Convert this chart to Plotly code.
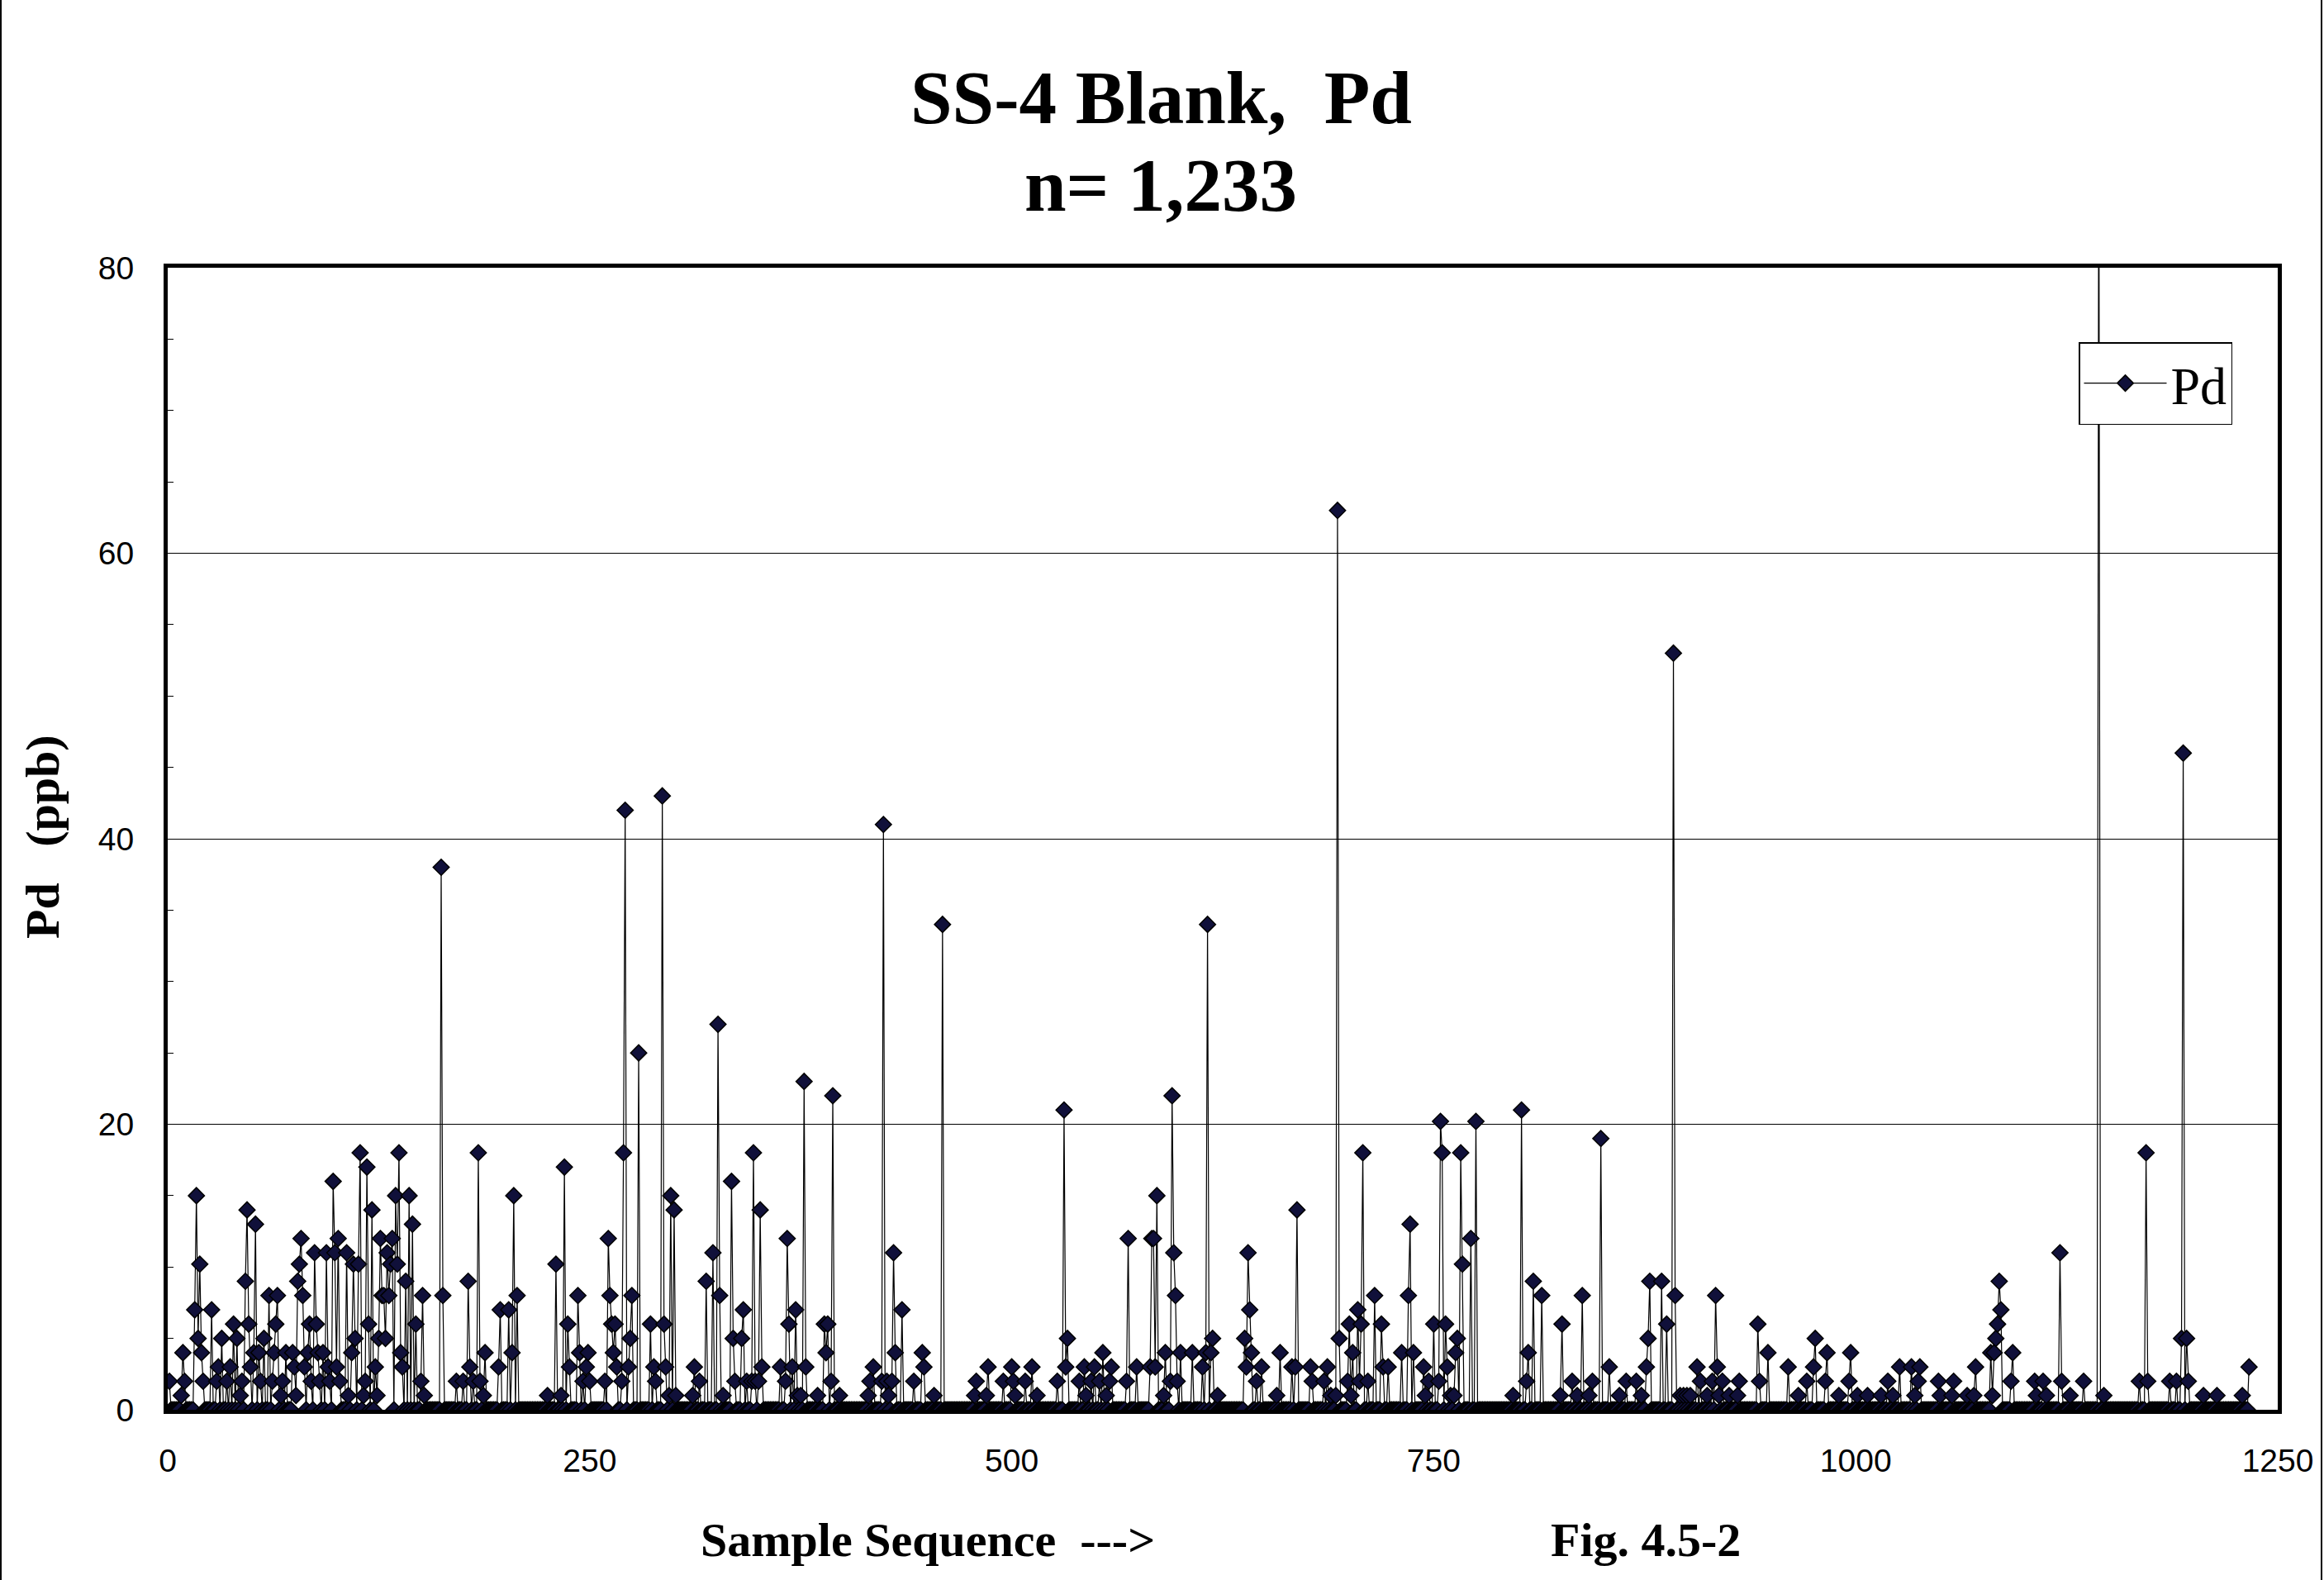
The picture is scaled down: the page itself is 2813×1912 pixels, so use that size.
import plotly.graph_objects as go

# ---------------- data ----------------
n_samples = 1233                      # "n= 1,233"; samples numbered 1..1233
# samples with a detectable Pd reading (sample number, ppb); all other samples read 0
detect_seq = [
    1, 8, 9, 10, 16, 17, 18, 19, 20, 21, 26, 29, 30, 32, 35, 37, 39, 41, 43, 44,
    46, 47, 48, 49, 51, 52, 54, 55, 57, 60, 62, 63, 64, 65, 67, 68, 70, 74, 75, 76,
    77, 78, 79, 80, 81, 83, 84, 85, 87, 88, 89, 90, 92, 94, 95, 96, 98, 99, 100, 101,
    102, 106, 107, 109, 110, 111, 113, 114, 116, 117, 118, 119, 121, 123, 124, 125, 126, 127, 128, 129,
    130, 131, 132, 133, 135, 136, 137, 138, 139, 141, 143, 145, 147, 150, 151, 152, 162, 163, 171, 175,
    178, 179, 181, 184, 185, 187, 188, 196, 197, 202, 204, 205, 207, 225, 230, 233, 235, 237, 238, 243,
    244, 246, 248, 249, 250, 259, 261, 262, 263, 264, 265, 266, 269, 270, 271, 273, 274, 275, 279, 286,
    288, 289, 293, 294, 295, 297, 298, 300, 301, 311, 312, 315, 319, 323, 326, 327, 329, 334, 335, 336,
    340, 341, 343, 346, 347, 348, 350, 351, 352, 363, 366, 367, 368, 370, 372, 373, 375, 377, 378, 385,
    389, 390, 391, 393, 394, 398, 415, 416, 418, 423, 424, 426, 427, 429, 430, 431, 435, 442, 447, 448,
    454, 459, 478, 479, 485, 486, 495, 500, 501, 502, 508, 512, 515, 527, 531, 532, 533, 540, 543, 544,
    547, 549, 552, 554, 556, 558, 559, 568, 569, 574, 582, 583, 584, 585, 586, 590, 591, 594, 595, 596,
    597, 598, 600, 607, 613, 615, 616, 618, 619, 622, 638, 639, 640, 641, 642, 645, 648, 657, 659, 666,
    668, 669, 677, 678, 685, 687, 689, 692, 693, 694, 699, 700, 701, 702, 705, 706, 707, 708, 711, 715,
    719, 720, 723, 731, 735, 736, 738, 744, 745, 747, 750, 753, 754, 755, 757, 758, 760, 762, 763, 764,
    766, 767, 772, 775, 797, 802, 805, 806, 809, 814, 825, 826, 832, 835, 838, 842, 844, 849, 854, 860,
    864, 870, 873, 876, 877, 878, 885, 888, 892, 893, 896, 898, 900, 902, 906, 908, 912, 915, 917, 918,
    919, 921, 925, 930, 931, 942, 943, 948, 960, 966, 971, 975, 976, 982, 983, 990, 996, 997, 1001, 1007,
    1015, 1019, 1022, 1026, 1033, 1035, 1037, 1038, 1049, 1050, 1057, 1058, 1066, 1070, 1071, 1080, 1081, 1082, 1083, 1084,
    1085, 1086, 1092, 1093, 1106, 1107, 1111, 1113, 1121, 1122, 1127, 1135, 1144, 1147, 1168, 1172, 1173, 1186, 1190, 1193,
    1194, 1196, 1197, 1206, 1214, 1229, 1233,
]
detect_ppb = [
    2, 1, 4, 2, 7, 15, 5, 10.2, 4, 2, 7, 2, 3, 5, 2, 3, 6, 5, 1, 2,
    9, 14, 6, 3, 4, 13, 4, 2, 5, 8, 2, 4, 6, 8, 1, 2, 4, 4, 3, 1,
    9, 10.2, 12, 8, 3, 4, 6, 2, 11, 6, 4, 2, 4, 11, 3, 2, 16, 11, 3, 12,
    2, 11, 1, 4, 10.2, 5, 10.2, 18, 1, 2, 17, 6, 14, 3, 1, 5, 12, 8, 8, 5,
    11, 8, 10.2, 12, 15, 10.2, 18, 4, 3, 9, 15, 13, 6, 2, 8, 1, 38, 8, 2, 2,
    9, 3, 2, 18, 2, 1, 4, 3, 7, 7, 4, 15, 8, 1, 10.2, 1, 17, 6, 3, 8,
    4, 2, 3, 4, 2, 2, 12, 8, 6, 4, 6, 3, 2, 18, 42, 3, 5, 8, 25, 6,
    3, 2, 43, 6, 3, 1, 15, 14, 1, 1, 3, 2, 9, 11, 27, 8, 1, 16, 5, 2,
    5, 7, 2, 2, 18, 2, 2, 14, 3, 3, 2, 12, 6, 3, 7, 1, 1, 23, 3, 1,
    6, 4, 6, 2, 22, 1, 1, 2, 3, 2, 41, 2, 1, 2, 11, 4, 7, 2, 4, 3,
    1, 34, 1, 2, 1, 3, 2, 3, 2, 1, 2, 3, 1, 2, 21, 3, 5, 2, 3, 1,
    2, 3, 2, 4, 1, 2, 3, 2, 12, 3, 3, 12, 12, 3, 15, 1, 4, 2, 22, 11,
    8, 2, 4, 4, 3, 4, 34, 4, 5, 1, 5, 3, 11, 7, 4, 2, 3, 1, 4, 3,
    3, 14, 3, 2, 2, 3, 1, 1, 63, 5, 2, 6, 1, 4, 7, 2, 6, 18, 2, 8,
    6, 3, 3, 4, 8, 13, 4, 3, 1, 2, 6, 2, 20.2, 18, 6, 3, 1, 1, 4, 5,
    18, 10.2, 12, 20.2, 1, 21, 2, 4, 9, 8, 1, 6, 2, 1, 8, 1, 2, 19, 3, 1,
    2, 2, 1, 3, 5, 9, 9, 6, 53, 8, 1, 1, 1, 1, 3, 2, 1, 2, 8, 3,
    1, 2, 1, 1, 2, 6, 2, 4, 3, 1, 2, 3, 5, 2, 4, 1, 2, 4, 1, 1,
    1, 2, 1, 3, 3, 1, 2, 3, 2, 1, 1, 2, 1, 1, 3, 4, 1, 4, 5, 6,
    9, 7, 2, 4, 2, 1, 2, 1, 11, 2, 1, 2, 95, 1, 2, 18, 2, 2, 2, 5,
    46, 5, 2, 1, 1, 1, 3,
]

x_ticks = [0, 250, 500, 750, 1000, 1250]
y_ticks = [0, 20, 40, 60, 80]

# full series: every sample in sequence
sample_seq = list(range(1, n_samples + 1))
lookup = dict(zip(detect_seq, detect_ppb))
pd_ppb = [lookup.get(s, 0) for s in sample_seq]

# ---------------- figure ----------------
W, H = 2813, 1912
ML, MR, MT, MB = 203, 56, 324, 206
PW, PH = W - ML - MR, H - MT - MB

def px(xf):
    return (xf - ML) / PW

def py(yf):
    return (H - MB - yf) / PH

fig = go.Figure()
fig.add_trace(go.Scatter(
    x=sample_seq, y=pd_ppb, name="Pd", mode="lines+markers",
    line=dict(color="black", width=1.2),
    marker=dict(symbol="diamond", size=15, color="#10103a",
                line=dict(color="black", width=1.5)),
    cliponaxis=True,
))

tickfont = dict(family="Liberation Sans, Arial, sans-serif", size=39, color="black")
serif = "Liberation Serif, Times New Roman, serif"

fig.update_layout(
    width=W, height=H,
    margin=dict(l=ML, r=MR, t=MT, b=MB),
    paper_bgcolor="white", plot_bgcolor="white",
    showlegend=True,
    legend=dict(
        x=px(2702), y=py(414), xanchor="right", yanchor="top",
        bordercolor="black", borderwidth=1.5, bgcolor="white",
        font=dict(family=serif, size=64, color="black"),
        itemwidth=100, tracegroupgap=0,
    ),
    xaxis=dict(
        range=[0, 1250], tickvals=x_ticks, ticktext=[str(v) for v in x_ticks],
        showgrid=False, zeroline=False,
        showline=True, linecolor="black", linewidth=5, mirror=True,
        ticks="", tickfont=tickfont, ticklabelstandoff=23,
    ),
    yaxis=dict(
        range=[0, 80], tickvals=y_ticks, ticktext=[str(v) for v in y_ticks],
        showgrid=True, gridcolor="black", gridwidth=1.2, zeroline=False,
        showline=True, linecolor="black", linewidth=5, mirror=True,
        ticks="inside", ticklen=7, tickwidth=1, tickcolor="black",
        minor=dict(dtick=5, ticks="inside", ticklen=7, tickwidth=1,
                   tickcolor="black", showgrid=False),
        tickfont=tickfont, ticklabelstandoff=28,
    ),
    annotations=[
        dict(text="<b>SS-4 Blank,\u00a0\u00a0Pd</b>", x=px(1405), y=py(118),
             xref="paper", yref="paper", xanchor="center", yanchor="middle",
             showarrow=False, font=dict(family=serif, size=91, color="black")),
        dict(text="<b>n= 1,233</b>", x=px(1405), y=py(224),
             xref="paper", yref="paper", xanchor="center", yanchor="middle",
             showarrow=False, font=dict(family=serif, size=91, color="black")),
        dict(text="<b>Sample Sequence\u00a0\u00a0--->",
             x=px(1123), y=py(1863), xref="paper", yref="paper",
             xanchor="center", yanchor="middle", showarrow=False,
             font=dict(family=serif, size=58, color="black")),
        dict(text="<b>Fig. 4.5-2</b>", x=px(1992), y=py(1863),
             xref="paper", yref="paper", xanchor="center", yanchor="middle",
             showarrow=False, font=dict(family=serif, size=58, color="black")),
        dict(text="<b>Pd\u00a0\u00a0\u00a0(ppb)</b>", x=px(52), y=py(1013),
             xref="paper", yref="paper", xanchor="center", yanchor="middle",
             textangle=-90, showarrow=False,
             font=dict(family=serif, size=58, color="black")),
    ],
    shapes=[
        dict(type="line", xref="paper", yref="paper", x0=px(1), x1=px(1),
             y0=py(H), y1=py(0), line=dict(color="black", width=2)),
        dict(type="line", xref="paper", yref="paper", x0=px(2810), x1=px(2810),
             y0=py(H), y1=py(0), line=dict(color="black", width=2)),
    ],
)

fig.write_html("out.html")
